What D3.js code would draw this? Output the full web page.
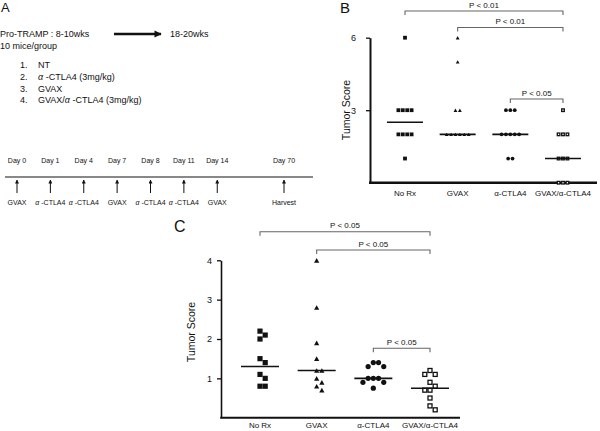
<!DOCTYPE html>
<html>
<head>
<meta charset="utf-8">
<script src="https://cdn.jsdelivr.net/npm/d3@7"></script>
<style>
  body { margin: 0; background: #fff; }
  svg text { font-family: "Liberation Sans", Arial, sans-serif; fill: #111; }
</style>
</head>
<body>
<div id="viz"></div>
<script>
// groups shared by panels B and C
var groups = ["No Rx", "GVAX", "α-CTLA4", "GVAX/α-CTLA4"];
var shapes = ["square", "triangle", "circle", "open"];

// panel B tumor scores (week 18-20)
var scoreB_noRx  = [6, 3, 3, 3, 3, 2, 2, 2, 2, 1];
var scoreB_gvax  = [6, 5, 3, 3, 2, 2, 2, 2, 2, 2];
var scoreB_ctla4 = [3, 3, 3, 2, 2, 2, 2, 2, 1, 1];
var scoreB_combo = [3, 2, 2, 2, 1, 1, 1, 0, 0, 0];
var medianB = [2.5, 2, 2, 1];
var ticksB = [3, 6];

// panel C tumor scores
var scoreC_noRx  = [2.2, 2.1, 2.0, 1.5, 1.4, 1.1, 1.0, 0.8, 0.8];
var scoreC_gvax  = [4.0, 2.8, 1.9, 1.5, 1.2, 1.2, 1.0, 0.9, 0.8, 0.7];
var scoreC_ctla4 = [1.4, 1.4, 1.3, 1.3, 1.0, 1.0, 1.0, 0.9, 0.9, 0.75];
var scoreC_combo = [1.2, 1.1, 1.1, 0.9, 0.8, 0.7, 0.7, 0.5, 0.3, 0.2];
var medianC = [1.3, 1.2, 1.0, 0.75];
var ticksC = [1, 2, 3, 4];

// significance comparisons [from group, to group, label]
var sigB = [[0, 3, "P < 0.01"], [1, 3, "P < 0.01"], [2, 3, "P < 0.05"]];
var sigC = [[0, 3, "P < 0.05"], [1, 3, "P < 0.05"], [2, 3, "P < 0.05"]];

// panel A schedule
var days = ["Day 0", "Day 1", "Day 4", "Day 7", "Day 8", "Day 11", "Day 14", "", "Day 70"];
var treatments = ["GVAX", "α-CTLA4", "α-CTLA4", "GVAX", "α-CTLA4", "α-CTLA4", "GVAX", "", "Harvest"];
var groupList = ["NT", "α-CTLA4 (3mg/kg)", "GVAX", "GVAX/α-CTLA4 (3mg/kg)"];

var svg = d3.select('#viz').append('svg')
  .attr('width', 600)
  .attr('height', 431);

var defs = svg.append('defs');
defs.append('marker')
  .attr('id', 'head')
  .attr('viewBox', '0 0 10 10')
  .attr('refX', 9).attr('refY', 5)
  .attr('markerWidth', 4).attr('markerHeight', 4)
  .attr('orient', 'auto')
  .append('path').attr('d', 'M0,0L10,5L0,10z').attr('fill', '#111');
defs.append('marker')
  .attr('id', 'headBig')
  .attr('viewBox', '0 0 10 10')
  .attr('refX', 9).attr('refY', 5)
  .attr('markerWidth', 3.5).attr('markerHeight', 3)
  .attr('orient', 'auto')
  .append('path').attr('d', 'M0,0L10,5L0,10z').attr('fill', '#111');

// write text with italic alpha
function alphaText(sel, str, italic) {
  var parts = str.split('α');
  parts.forEach(function (p, i) {
    if (i > 0) sel.append('tspan').style('font-style', italic ? 'italic' : 'normal').text(italic ? 'α ' : 'α');
    if (p.length) sel.append('tspan').text(p);
  });
}

// ---------- panel A ----------
var panelA = svg.append('g').attr('id', 'panelA');
panelA.append('text').attr('x', 1).attr('y', 12).style('font-size', '13px').text('A');
panelA.append('text').attr('x', 0).attr('y', 37).style('font-size', '9px').text('Pro-TRAMP : 8-10wks');
panelA.append('text').attr('x', 0).attr('y', 49).style('font-size', '9px').text('10 mice/group');
panelA.append('line')
  .attr('x1', 114).attr('x2', 161).attr('y1', 34).attr('y2', 34)
  .attr('stroke', '#111').attr('stroke-width', 2.4)
  .attr('marker-end', 'url(#headBig)');
panelA.append('text').attr('x', 170).attr('y', 37).style('font-size', '9px').text('18-20wks');

groupList.forEach(function (g, i) {
  panelA.append('text').attr('x', 20).attr('y', 68 + i * 11.8).style('font-size', '9px').text((i + 1) + '.');
  var t = panelA.append('text').attr('x', 38).attr('y', 68 + i * 11.8).style('font-size', '9px');
  alphaText(t, g, true);
});

// schedule timeline
var tx = d3.scalePoint().domain(d3.range(days.length)).range([17, 284]);
panelA.append('line')
  .attr('x1', 5).attr('x2', 313).attr('y1', 177).attr('y2', 177)
  .attr('stroke', '#888').attr('stroke-width', 1.8);
days.forEach(function (d, i) {
  if (!d) return;
  panelA.append('text').attr('x', tx(i)).attr('y', 163)
    .attr('text-anchor', 'middle').style('font-size', '7px').text(d);
  panelA.append('line')
    .attr('x1', tx(i)).attr('x2', tx(i)).attr('y1', 193).attr('y2', 180)
    .attr('stroke', '#111').attr('stroke-width', 1)
    .attr('marker-end', 'url(#head)');
  var t = panelA.append('text').attr('x', tx(i)).attr('y', 205)
    .attr('text-anchor', 'middle').style('font-size', '7px');
  alphaText(t, treatments[i], true);
});

// ---------- scatter helpers ----------
function drawMark(g, shape, x, y, s) {
  if (shape === 'square') {
    g.append('rect').attr('x', x - s / 2).attr('y', y - s / 2).attr('width', s).attr('height', s).attr('fill', '#111');
  } else if (shape === 'open') {
    g.append('rect').attr('x', x - s / 2 + 0.6).attr('y', y - s / 2 + 0.6).attr('width', s - 1.2).attr('height', s - 1.2)
      .attr('fill', '#fff').attr('stroke', '#111').attr('stroke-width', 1.3);
  } else if (shape === 'circle') {
    g.append('circle').attr('cx', x).attr('cy', y).attr('r', s / 2).attr('fill', '#111');
  } else {
    var h = s * 0.9;
    g.append('path').attr('d', 'M' + x + ',' + (y - h / 2) + 'L' + (x + s / 2) + ',' + (y + h / 2) + 'L' + (x - s / 2) + ',' + (y + h / 2) + 'Z')
      .attr('fill', '#111');
  }
}

// centred rows for tied values
function rowOffsets(vals, step) {
  var counts = {}, seen = {};
  vals.forEach(function (v) { counts[v] = (counts[v] || 0) + 1; });
  return vals.map(function (v) {
    var k = seen[v] || 0; seen[v] = k + 1;
    return (k - (counts[v] - 1) / 2) * step;
  });
}

// simple dodge for nearby values
function dodgeOffsets(vals, y, step, minDist) {
  var placed = [];
  return vals.map(function (v) {
    var py = y(v);
    var cands = [0, step, -step, 2 * step, -2 * step, 3 * step];
    for (var c = 0; c < cands.length; c++) {
      var ok = placed.every(function (p) {
        return Math.hypot(p[0] - cands[c], p[1] - py) >= minDist;
      });
      if (ok) { placed.push([cands[c], py]); return cands[c]; }
    }
    placed.push([0, py]);
    return 0;
  });
}

function drawPanel(opt) {
  var g = svg.append('g').attr('id', opt.id);
  var x = d3.scalePoint().domain(groups).range(opt.xRange);
  var y = d3.scaleLinear().domain(opt.yDomain).range(opt.yRange);

  g.append('text').attr('x', opt.letter[0]).attr('y', opt.letter[1])
    .style('font-size', opt.letterSize + 'px').text(opt.letterText);

  // y axis
  var yAxis = g.append('g')
    .attr('transform', 'translate(' + opt.axisX + ',0)')
    .call(d3.axisLeft(y).tickValues(opt.ticks).tickFormat(d3.format('d'))
      .tickSize(4).tickSizeOuter(0).tickPadding(opt.tickPad));
  yAxis.select('.domain').attr('stroke', '#111').attr('stroke-width', opt.axisW);
  yAxis.selectAll('.tick line').attr('stroke', '#111').attr('stroke-width', 1.3);
  yAxis.selectAll('.tick text').style('font-size', '9px').attr('fill', '#222');

  g.append('text')
    .attr('transform', 'translate(' + opt.titleX + ',' + opt.titleY + ') rotate(-90)')
    .attr('text-anchor', 'middle').style('font-size', '10.5px').text('Tumor Score');

  // x axis line and category labels
  g.append('line')
    .attr('x1', opt.axisX - opt.axisW / 2).attr('x2', opt.axisEnd)
    .attr('y1', y(0)).attr('y2', y(0))
    .attr('stroke', '#111').attr('stroke-width', opt.axisW + 0.4);
  groups.forEach(function (grp) {
    g.append('text').attr('x', x(grp)).attr('y', opt.labelY)
      .attr('text-anchor', 'middle').style('font-size', '8px').attr('fill', '#222').text(grp);
  });

  // points
  opt.series.forEach(function (vals, i) {
    var offs = opt.rows ? rowOffsets(vals, opt.step) : dodgeOffsets(vals, y, opt.step, opt.minDist);
    vals.forEach(function (v, j) {
      drawMark(g, shapes[i], x(groups[i]) + offs[j], y(v), opt.size);
    });
    // median line
    g.append('line')
      .attr('x1', x(groups[i]) - opt.medW / 2).attr('x2', x(groups[i]) + opt.medW / 2)
      .attr('y1', y(opt.medians[i])).attr('y2', y(opt.medians[i]))
      .attr('stroke', '#111').attr('stroke-width', 1.6);
  });

  // significance brackets
  opt.sig.forEach(function (s, k) {
    var by = opt.bracketY[k];
    var x1 = x(groups[s[0]]), x2 = x(groups[s[1]]);
    g.append('path')
      .attr('d', 'M' + x1 + ',' + (by + 4) + 'V' + by + 'H' + x2 + 'V' + (by + 4))
      .attr('fill', 'none').attr('stroke', '#666').attr('stroke-width', 1.1);
    g.append('text').attr('x', (x1 + x2) / 2).attr('y', by - 3.5)
      .attr('text-anchor', 'middle').style('font-size', '8px').attr('fill', '#333').text(s[2]);
  });
}

// ---------- panel B ----------
drawPanel({
  id: 'panelB',
  letterText: 'B', letter: [340, 13], letterSize: 15,
  xRange: [405, 563], yDomain: [0, 6], yRange: [182.7, 37.7],
  axisX: 370, axisEnd: 597, axisW: 2,
  ticks: ticksB, tickPad: 10, titleX: 350, titleY: 110, labelY: 196,
  series: [scoreB_noRx, scoreB_gvax, scoreB_ctla4, scoreB_combo],
  medians: medianB, medW: 36,
  rows: true, step: 4.4, size: 3.8,
  sig: sigB, bracketY: [11, 27.5, 99]
});

// ---------- panel C ----------
drawPanel({
  id: 'panelC',
  letterText: 'C', letter: [174, 232], letterSize: 16,
  xRange: [260, 430], yDomain: [0, 4], yRange: [417.7, 260.3],
  axisX: 221, axisEnd: 460, axisW: 1.6,
  ticks: ticksC, tickPad: 5, titleX: 195, titleY: 332, labelY: 428,
  series: [scoreC_noRx, scoreC_gvax, scoreC_ctla4, scoreC_combo],
  medians: medianC, medW: 38,
  rows: false, step: 5.2, minDist: 5.2, size: 5.2,
  sig: sigC, bracketY: [231.7, 250, 348.3]
});
</script>
</body>
</html>
